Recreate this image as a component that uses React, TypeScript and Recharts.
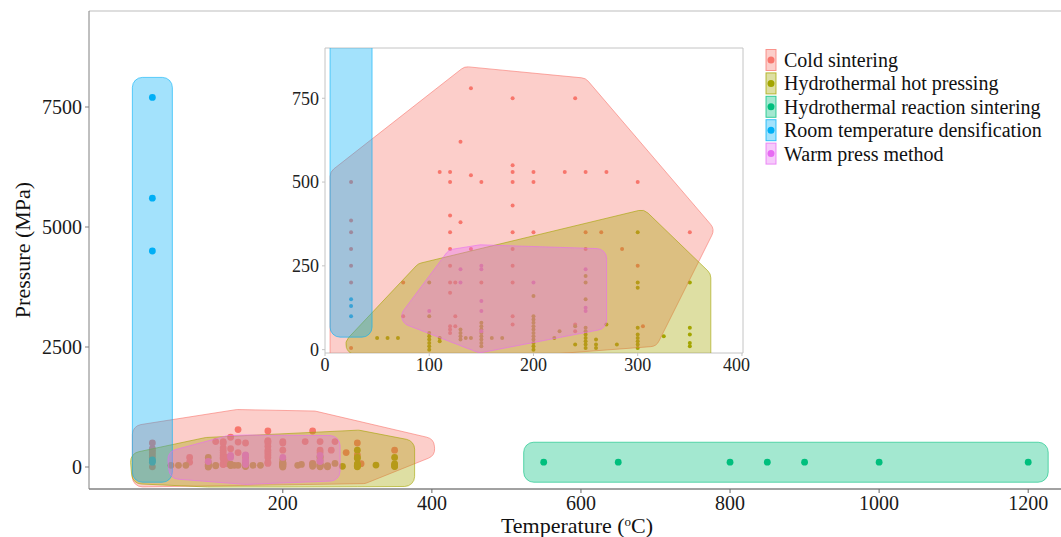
import React from 'react';
import { ScatterChart, Scatter, XAxis, YAxis, ReferenceLine, CartesianGrid, Label } from 'recharts';

type Pair = [number, number];
type Pt = [number, number];

const FONT = '"Liberation Serif", "Times New Roman", serif';

const groupNames = [
  'Cold sintering',
  'Hydrothermal hot pressing',
  'Hydrothermal reaction sintering',
  'Room temperature densification',
  'Warm press method',
];
const groupColors = ['#F8766D', '#A3A500', '#00BF7D', '#00B0F6', '#E76BF3'];

// [temperature (C), pressure (MPa)]
const coldSintering: Pair[] = [
  [25, 500], [25, 385], [25, 350], [25, 300], [25, 250], [25, 200], [25, 5],
  [75, 200], [75, 100], [110, 530],
  [120, 530], [120, 500], [120, 400], [120, 350], [120, 300], [120, 250], [120, 200], [120, 170], [120, 70], [120, 60], [120, 50],
  [125, 200], [125, 100], [125, 70], [130, 620], [130, 380],
  [140, 780], [140, 520], [140, 300], [150, 500], [150, 200],
  [180, 750], [180, 550], [180, 530], [180, 500], [180, 430], [180, 350], [180, 300], [180, 250], [180, 200], [180, 100], [180, 75],
  [200, 530], [200, 500], [200, 350], [230, 530], [240, 750], [240, 75], [240, 55],
  [250, 530], [250, 350], [250, 300], [265, 350], [270, 530], [285, 300],
  [300, 500], [300, 250], [305, 70], [350, 350],
];
const hydrothermalHotPressing: Pair[] = [
  [50, 35], [60, 35], [70, 35],
  [100, 200], [100, 100], [100, 50], [100, 40], [100, 30], [100, 20], [100, 10], [100, 0],
  [110, 35], [110, 25], [130, 60], [130, 50], [130, 40], [130, 30], [135, 35], [140, 35],
  [150, 80], [150, 70], [150, 60], [150, 50], [150, 40], [150, 30], [150, 20], [150, 10],
  [160, 35], [170, 35],
  [200, 160], [200, 100], [200, 90], [200, 80], [200, 70], [200, 60], [200, 50], [200, 40], [200, 30], [200, 20], [200, 10], [200, 0],
  [220, 35], [225, 55], [240, 70], [240, 15],
  [250, 220], [250, 200], [250, 150], [250, 65], [250, 55], [250, 45], [250, 35], [250, 25], [250, 15], [250, 5],
  [260, 30], [260, 15], [260, 5], [270, 75], [280, 15],
  [300, 350], [300, 200], [300, 185], [300, 65], [300, 45], [300, 35], [300, 25], [300, 15], [300, 5],
  [325, 40], [350, 200], [350, 65], [350, 45], [350, 20], [350, 10],
];
const hydrothermalReactionSintering: Pair[] = [
  [550, 100], [650, 100], [800, 100], [850, 100], [900, 100], [1000, 100], [1200, 100],
];
const roomTemperatureDensification: Pair[] = [
  [25, 7700], [25, 5600], [25, 4500], [25, 150], [25, 130], [25, 100],
];
const warmPressMethod: Pair[] = [
  [100, 115], [130, 240], [130, 200], [150, 250], [150, 240], [150, 145], [150, 115], [150, 55],
  [200, 200], [250, 240], [250, 125], [250, 115],
];

const groups = [coldSintering, hydrothermalHotPressing, hydrothermalReactionSintering, roomTemperatureDensification, warmPressMethod];

const mainTempTicks = [200, 400, 600, 800, 1000, 1200];
const mainPressureTicks = [0, 2500, 5000, 7500];
const insetTempTicks = [0, 100, 200, 300, 400];
const insetPressureTicks = [0, 250, 500, 750];

const toRows = (pairs: Pair[]) => pairs.map(([t, p]) => ({ t, p }));

// --- hull geometry (convex hull, expanded, rounded corners) ---
const unit = (x: number, y: number): Pt => {
  const l = Math.hypot(x, y) || 1;
  return [x / l, y / l];
};

function convexHull(pts: Pt[]): Pt[] {
  const p = pts.slice().sort((a, b) => a[0] - b[0] || a[1] - b[1]);
  const uniq: Pt[] = [];
  p.forEach(q => {
    const last = uniq[uniq.length - 1];
    if (!last || Math.abs(last[0] - q[0]) > 1e-6 || Math.abs(last[1] - q[1]) > 1e-6) uniq.push(q);
  });
  if (uniq.length < 3) return uniq;
  const cross = (o: Pt, a: Pt, b: Pt) => (a[0] - o[0]) * (b[1] - o[1]) - (a[1] - o[1]) * (b[0] - o[0]);
  const lower: Pt[] = [];
  for (const q of uniq) {
    while (lower.length >= 2 && cross(lower[lower.length - 2], lower[lower.length - 1], q) <= 0) lower.pop();
    lower.push(q);
  }
  const upper: Pt[] = [];
  for (let i = uniq.length - 1; i >= 0; i--) {
    const q = uniq[i];
    while (upper.length >= 2 && cross(upper[upper.length - 2], upper[upper.length - 1], q) <= 0) upper.pop();
    upper.push(q);
  }
  return lower.slice(0, -1).concat(upper.slice(0, -1));
}

// miter offset; sharp corners are cut at limit*d, reversals squared at d
function offsetMiter(poly: Pt[], d: number, limit: number): Pt[] {
  const n = poly.length;
  const out: Pt[] = [];
  for (let i = 0; i < n; i++) {
    const prev = poly[(i - 1 + n) % n], cur = poly[i], next = poly[(i + 1) % n];
    const d1 = unit(cur[0] - prev[0], cur[1] - prev[1]);
    const d2 = unit(next[0] - cur[0], next[1] - cur[1]);
    const n1: Pt = [d1[1], -d1[0]];
    const n2: Pt = [d2[1], -d2[0]];
    const c = n1[0] * n2[0] + n1[1] * n2[1];
    if (c > -0.999 && 1 / Math.sqrt((1 + c) / 2) <= limit) {
      const k = d / (1 + c);
      out.push([cur[0] + k * (n1[0] + n2[0]), cur[1] + k * (n1[1] + n2[1])]);
    } else {
      let b: Pt = [n1[0] + n2[0], n1[1] + n2[1]];
      const bl = Math.hypot(b[0], b[1]);
      const reversal = bl < 1e-6 || c <= -0.999;
      b = bl < 1e-6 ? d1 : [b[0] / bl, b[1] / bl];
      const L = reversal ? d : limit * d;
      const s1 = (L - d * (n1[0] * b[0] + n1[1] * b[1])) / (d1[0] * b[0] + d1[1] * b[1]);
      const s2 = (L - d * (n2[0] * b[0] + n2[1] * b[1])) / (d2[0] * b[0] + d2[1] * b[1]);
      out.push([cur[0] + d * n1[0] + s1 * d1[0], cur[1] + d * n1[1] + s1 * d1[1]]);
      out.push([cur[0] + d * n2[0] + s2 * d2[0], cur[1] + d * n2[1] + s2 * d2[1]]);
    }
  }
  return out;
}

function roundedPath(poly: Pt[], r: number): string {
  const n = poly.length;
  const normals = poly.map((p, i) => {
    const q = poly[(i + 1) % n];
    const u = unit(q[0] - p[0], q[1] - p[1]);
    return [u[1], -u[0]] as Pt;
  });
  let d = '';
  for (let i = 0; i < n; i++) {
    const cur = poly[i];
    const nin = normals[(i - 1 + n) % n];
    const nout = normals[i];
    const a = [cur[0] + r * nin[0], cur[1] + r * nin[1]];
    const b = [cur[0] + r * nout[0], cur[1] + r * nout[1]];
    d += `${i === 0 ? 'M' : 'L'}${a[0].toFixed(2)},${a[1].toFixed(2)}A${r},${r} 0 0 1 ${b[0].toFixed(2)},${b[1].toFixed(2)}`;
  }
  return d + 'Z';
}

function hullPath(raw: { x: number; y: number }[], expand: number, radius: number): string {
  const pts: Pt[] = raw.filter(p => Number.isFinite(p.x) && Number.isFinite(p.y)).map(p => [p.x, p.y]);
  if (!pts.length) return '';
  const hull = convexHull(pts);
  let area = 0;
  hull.forEach((p, i) => {
    const q = hull[(i + 1) % hull.length];
    area += p[0] * q[1] - q[0] * p[1];
  });
  if (area < 0) hull.reverse();
  const d = expand - radius;
  let poly: Pt[];
  if (hull.length === 1) {
    const [x, y] = hull[0];
    poly = [[x - d, y - d], [x + d, y - d], [x + d, y + d], [x - d, y + d]];
  } else {
    poly = offsetMiter(hull, d, 3);
  }
  const clean: Pt[] = [];
  poly.forEach(p => {
    const last = clean[clean.length - 1];
    if (!last || Math.hypot(last[0] - p[0], last[1] - p[1]) > 0.01) clean.push(p);
  });
  return roundedPath(clean, radius);
}

const dot = (color: string, r: number) => (props: any) =>
  props.cx == null ? <g /> : <circle cx={props.cx} cy={props.cy} r={r} fill={color} />;

const hullLine = (color: string, expand: number, radius: number) => (props: any) => (
  <path
    d={hullPath(props.points || [], expand, radius)}
    fill={color}
    fillOpacity={0.36}
    stroke={color}
    strokeOpacity={0.75}
    strokeWidth={0.8}
  />
);

const renderSeries = (r: number, expand: number) => [
  ...groups.map((g, i) => (
    <Scatter key={`pts-${i}`} name={groupNames[i]} data={toRows(g)} shape={dot(groupColors[i], r)} isAnimationActive={false} />
  )),
  ...groups.map((g, i) => (
    <Scatter
      key={`hull-${i}`}
      data={toRows(g)}
      shape={() => <g />}
      line={hullLine(groupColors[i], expand, 10)}
      lineType="joint"
      isAnimationActive={false}
    />
  )),
];

const Legend5 = () => (
  <svg width={300} height={125} style={{ position: 'absolute', left: 760, top: 45 }}>
    {groupNames.map((name, i) => {
      const cy = 15 + i * 23.4;
      return (
        <g key={name}>
          <rect x={6} y={cy - 10.5} width={10} height={21} fill={groupColors[i]} fillOpacity={0.36} stroke={groupColors[i]} strokeOpacity={0.75} />
          <circle cx={11} cy={cy} r={3.5} fill={groupColors[i]} />
          <text x={24} y={cy} dominantBaseline="central" fontSize={20} fontFamily={FONT} fill="#111">
            {name}
          </text>
        </g>
      );
    })}
  </svg>
);

export default function App() {
  return (
    <div style={{ position: 'absolute', left: 0, top: 0, width: 1061, height: 537, background: '#fff', overflow: 'hidden', fontFamily: FONT }}>
      <ScatterChart width={1061} height={537} margin={{ top: 11, right: 0, bottom: 0, left: 0 }}>
        <XAxis
          type="number"
          dataKey="t"
          domain={[-60, 1244]}
          ticks={mainTempTicks}
          allowDataOverflow
          height={48}
          tickSize={4}
          tickMargin={3}
          axisLine={{ stroke: '#444' }}
          tickLine={{ stroke: '#666' }}
          tick={{ fontSize: 20, fill: '#1a1a1a', fontFamily: FONT }}
        >
          <Label
            content={() => (
              <text x={577} y={533} textAnchor="middle" fontSize={22} fontFamily={FONT} fill="#111">
                Temperature (<tspan fontSize={13} dy={-7}>o</tspan>
                <tspan dy={7}>C)</tspan>
              </text>
            )}
          />
        </XAxis>
        <YAxis
          type="number"
          dataKey="p"
          domain={[-458, 9500]}
          ticks={mainPressureTicks}
          allowDataOverflow
          width={89}
          tickSize={4}
          tickMargin={3}
          axisLine={{ stroke: '#808080' }}
          tickLine={{ stroke: '#808080' }}
          tick={{ fontSize: 20, fill: '#1a1a1a', fontFamily: FONT }}
        >
          <Label
            content={() => (
              <text x={22} y={250} transform="rotate(-90 22 250)" textAnchor="middle" dominantBaseline="central" fontSize={22} fontFamily={FONT} fill="#111">
                Pressure (MPa)
              </text>
            )}
          />
        </YAxis>
        <ReferenceLine y={9500} stroke="#bdbdbd" />
        {renderSeries(3.4, 20)}
      </ScatterChart>

      <div style={{ position: 'absolute', left: 280, top: 40 }}>
        <ScatterChart width={470} height={340} margin={{ top: 8, right: 7, bottom: 0, left: 0 }}>
          <CartesianGrid fill="#fff" stroke="none" horizontal={false} vertical={false} />
          <XAxis
            type="number"
            dataKey="t"
            domain={[0, 401]}
            ticks={insetTempTicks}
            allowDataOverflow
            height={27}
            tickSize={3}
            tickMargin={2}
            axisLine={{ stroke: '#c4c4c4' }}
            tickLine={{ stroke: '#c4c4c4' }}
            tick={{ fontSize: 18, fill: '#222', fontFamily: FONT }}
          />
          <YAxis
            type="number"
            dataKey="p"
            domain={[-10, 900]}
            ticks={insetPressureTicks}
            allowDataOverflow
            width={45}
            tickSize={3}
            tickMargin={3}
            axisLine={{ stroke: '#c4c4c4' }}
            tickLine={{ stroke: '#c4c4c4' }}
            tick={{ fontSize: 18, fill: '#222', fontFamily: FONT }}
          />
          {renderSeries(2, 21)}
          <ReferenceLine y={900} stroke="#c4c4c4" />
          <ReferenceLine x={401} stroke="#c4c4c4" />
        </ScatterChart>
      </div>

      <Legend5 />
    </div>
  );
}
